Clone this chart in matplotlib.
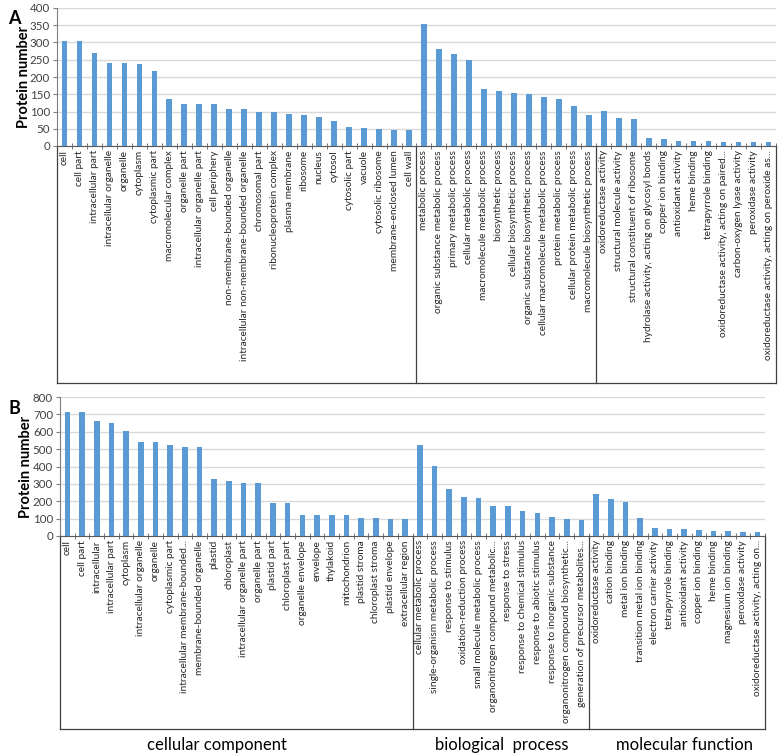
import matplotlib
matplotlib.use("Agg")
import matplotlib.pyplot as plt
from matplotlib.lines import Line2D
from matplotlib.transforms import blended_transform_factory

plt.rcParams['font.family'] = ['Lato', 'DejaVu Sans']

# ======================= Panel A data ==================================================
a_labels = ['cell', 'cell part', 'intracellular part', 'intracellular organelle', 'organelle',
            'cytoplasm', 'cytoplasmic part', 'macromolecular complex', 'organelle part',
            'intracellular organelle part', 'cell periphery', 'non-membrane-bounded organelle',
            'intracellular non-membrane-bounded organelle', 'chromosomal part',
            'ribonucleoprotein complex', 'plasma membrane', 'ribosome', 'nucleus', 'cytosol',
            'cytosolic part', 'vacuole', 'cytosolic ribosome', 'membrane-enclosed lumen', 'cell wall',
            'metabolic process', 'organic substance metabolic process', 'primary metabolic process',
            'cellular metabolic process', 'macromolecule metabolic process', 'biosynthetic process',
            'cellular biosynthetic process', 'organic substance biosynthetic process',
            'cellular macromolecule metabolic process', 'protein metabolic process',
            'cellular protein metabolic process', 'macromolecule biosynthetic process',
            'oxidoreductase activity', 'structural molecule activity',
            'structural constituent of ribosome', 'hydrolase activity, acting on glycosyl bonds',
            'copper ion binding', 'antioxidant activity', 'heme binding', 'tetrapyrrole binding',
            'oxidoreductase activity, acting on paired...', 'carbon-oxygen lyase activity',
            'peroxidase activity', 'oxidoreductase activity, acting on peroxide as...']
a_values = [305, 305, 271, 240, 240, 237, 217, 137, 122, 122, 122, 106, 106, 99, 98, 93, 90, 84,
            73, 54, 52, 49, 46, 46,
            354, 282, 266, 249, 164, 159, 154, 152, 141, 135, 116, 91,
            101, 80, 78, 22, 19, 15, 15, 15, 13, 13, 11, 11]
a_groups = [24, 12, 12]

# ======================= Panel B data ==================================================
b_labels = ['cell', 'cell part', 'intracellular', 'intracellular part', 'cytoplasm',
            'intracellular organelle', 'organelle', 'cytoplasmic part',
            'intracellular membrane-bounded...', 'membrane-bounded organelle', 'plastid',
            'chloroplast', 'intracellular organelle part', 'organelle part', 'plastid part',
            'chloroplast part', 'organelle envelope', 'envelope', 'thylakoid', 'mitochondrion',
            'plastid stroma', 'chloroplast stroma', 'plastid envelope', 'extracellular region',
            'cellular metabolic process', 'single-organism metabolic process',
            'response to stimulus', 'oxidation-reduction process',
            'small molecule metabolic process', 'organonitrogen compound metabolic...',
            'response to stress', 'response to chemical stimulus', 'response to abiotic stimulus',
            'response to inorganic substance', 'organonitrogen compound biosynthetic...',
            'generation of precursor metabolites...',
            'oxidoreductase activity', 'cation binding', 'metal ion binding',
            'transition metal ion binding', 'electron carrier activity', 'tetrapyrrole binding',
            'antioxidant activity', 'copper ion binding', 'heme binding',
            'magnesium ion binding', 'peroxidase activity', 'oxidoreductase activity, acting on...']
b_values = [716, 716, 660, 651, 603, 541, 539, 526, 510, 510, 328, 319, 303, 303, 192, 190,
            123, 123, 119, 119, 106, 106, 98, 96,
            526, 403, 273, 225, 219, 175, 171, 142, 134, 107, 96, 94,
            244, 215, 198, 102, 48, 40, 40, 36, 31, 31, 25, 25]
b_groups = [24, 12, 12]
group_names = ['cellular component', 'biological  process', 'molecular function']

bar_color = '#5B9BD5'
grid_color = '#D9D9D9'
axis_color = '#7F7F7F'
text_color = '#404040'


def draw_panel(ax, labels, values, groups, ymax, ystep, box_bottom, label_x):
    n = len(values)
    x = list(range(n))
    ax.bar(x, values, width=0.38, color=bar_color, zorder=3)
    ax.set_xlim(-0.5, n - 0.5)
    ax.set_ylim(0, ymax)
    ax.set_yticks(range(0, ymax + 1, ystep))
    ax.yaxis.grid(True, color=grid_color, linewidth=1, zorder=0)
    for s in ['top', 'right']:
        ax.spines[s].set_visible(False)
    ax.spines['left'].set_color(axis_color)
    ax.spines['bottom'].set_color('#595959')
    ax.tick_params(axis='y', length=3, color=axis_color, labelsize=8.3, labelcolor=text_color, pad=2)

    # category labels at the centres, ticks at the boundaries (Excel style)
    ax.set_xticks(x)
    ax.set_xticklabels(labels, rotation=90, fontsize=7.3, color='#262626')
    ax.tick_params(axis='x', which='major', length=0, pad=3)
    ax.set_xticks([i - 0.5 for i in range(n + 1)], minor=True)
    ax.tick_params(axis='x', which='minor', length=4, color='#595959', direction='inout')

    # box round the label area with separators between the groups
    tr = blended_transform_factory(ax.transData, ax.transAxes)
    ax.add_line(Line2D([-0.5, -0.5], [0, box_bottom], transform=tr, color='#404040',
                       linewidth=0.9, clip_on=False))
    ax.add_line(Line2D([n - 0.5, n - 0.5], [0, box_bottom], transform=tr, color='#404040',
                       linewidth=0.9, clip_on=False))
    ax.add_line(Line2D([-0.5, n - 0.5], [box_bottom, box_bottom], transform=tr, color='#404040',
                       linewidth=0.9, clip_on=False))
    pos = 0
    for g in groups[:-1]:
        pos += g
        ax.add_line(Line2D([pos - 0.5, pos - 0.5], [0, box_bottom], transform=tr,
                           color='#404040', linewidth=0.9, clip_on=False))
    ax.set_ylabel('Protein number', fontsize=10.5, fontweight='bold')
    ax.yaxis.set_label_coords(label_x, 0.5)


fig = plt.figure(figsize=(7.8, 7.56), dpi=100)

ax_a = fig.add_axes([57 / 780, 1 - 146 / 756, 719 / 780, 138 / 756])
draw_panel(ax_a, a_labels, a_values, a_groups, 400, 50, (146 - 383) / 138, (31 - 57) / 719)

ax_b = fig.add_axes([60 / 780, 1 - 536 / 756, 705 / 780, 139 / 756])
draw_panel(ax_b, b_labels, b_values, b_groups, 800, 100, (536 - 729) / 139, (33 - 60) / 705)

fig.text(8 / 780, 1 - 18 / 756, 'A', fontsize=13, fontweight='bold', va='center')
fig.text(8 / 780, 1 - 408 / 756, 'B', fontsize=13, fontweight='bold', va='center')

# group names under panel B
for name, xc in zip(group_names, [217, 502, 685]):
    fig.text(xc / 780, 1 - 745 / 756, name, fontsize=12, ha='center', va='center')

fig.savefig('out.png', dpi=100)
